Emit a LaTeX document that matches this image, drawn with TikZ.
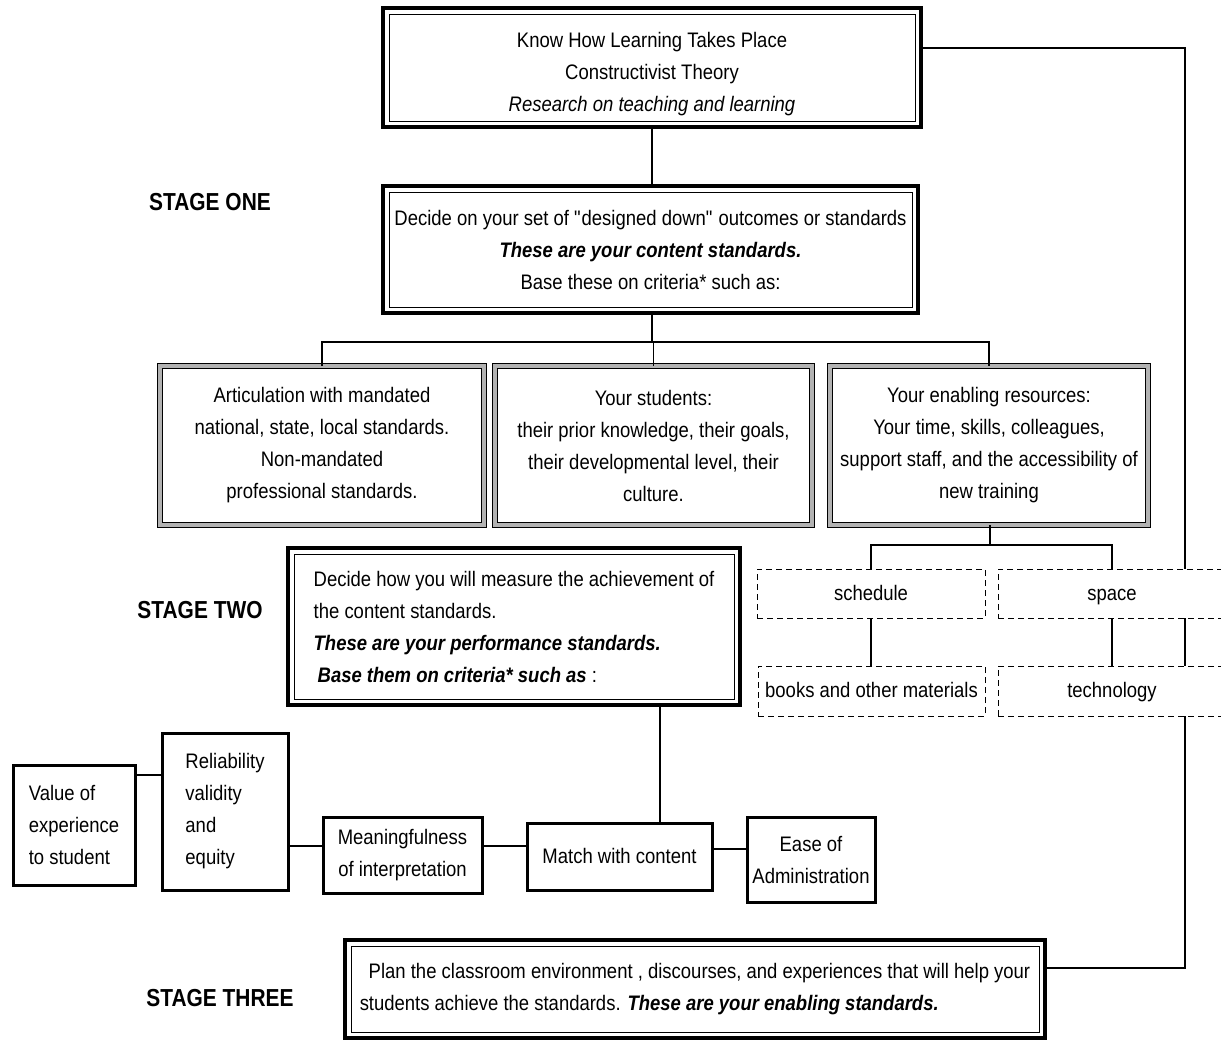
\documentclass[tikz,border=0pt]{standalone}
\usepackage{fontspec}
\setmainfont[FakeStretch=0.88]{Liberation Sans}
\newfontfamily\stagefont[FakeStretch=0.85]{Liberation Sans}
\usetikzlibrary{backgrounds}

\tikzset{
  txt/.style={font=\fontsize{10.5}{16}\selectfont, inner sep=0pt, outer sep=0pt},
  heavybox/.style={txt, draw, line width=1.6pt, fill=white, align=center,
    path picture={\draw[line width=0.5pt]
      ([shift={(3pt,-3pt)}]path picture bounding box.north west) rectangle
      ([shift={(-3pt,3pt)}]path picture bounding box.south east);}},
  grainbox/.style={txt, draw=black, line width=0.4pt, double=black!30,
    double distance=2pt, fill=white, align=center},
  dashbox/.style={txt, draw, densely dashed, line width=0.5pt, fill=white, align=center,
    text height=9pt, text depth=2.3pt},
  thickbox/.style={txt, draw, line width=1.5pt, fill=white, align=center},
  stagelabel/.style={font=\stagefont\bfseries\fontsize{12.3}{14}\selectfont},
  link/.style={line width=0.8pt},
}

\begin{document}
\begin{tikzpicture}[x=0.5pt, y=-0.5pt]
  \useasboundingbox (0,0) rectangle (1221,1040);

  % stage one
  \node[heavybox, minimum width=269pt, minimum height=59.5pt] (learn) at (652,67.5)
    {\rule{0pt}{14pt}Know How Learning Takes Place\\Constructivist Theory\\\textit{Research on teaching and learning}};
  \node[heavybox, minimum width=267.5pt, minimum height=63.5pt] (content) at (650.5,249.5)
    {Decide on your set of \textquotedbl designed down\textquotedbl{} outcomes or standards\\
     \textbf{\textit{These are your content standards.}}\\Base these on criteria* such as:};

  \node[grainbox, minimum width=162pt, minimum height=79.5pt] (artic) at (322,445.5)
    {Articulation with mandated\\national, state, local standards.\\Non-mandated\\professional standards.};
  \node[grainbox, minimum width=158.5pt, minimum height=79.5pt] (students) at (653.5,445.5)
    {Your students:\\their prior knowledge, their goals,\\their developmental level, their\\culture.};
  \node[grainbox, minimum width=159pt, minimum height=79.5pt] (resources) at (989,445.5)
    {Your enabling resources:\\Your time, skills, colleagues,\\support staff, and the accessibility of\\new training};

  % stage two
  \node[heavybox, align=left, minimum width=226pt, minimum height=78.5pt] (perf) at (514,626.5)
    {Decide how you will measure the achievement of\\the content standards.\\
     \textbf{\textit{These are your performance standards.}}\\
     \hspace{2pt}\textbf{\textit{Base them on criteria* such as}} :};

  \node[thickbox, align=left, minimum width=61pt, minimum height=60pt] (value) at (74,825)
    {Value of\\experience\\to student};
  \node[thickbox, align=left, minimum width=63pt, minimum height=78.5pt] (reliab) at (225,811.5)
    {Reliability\\validity\\and\\equity};
  \node[thickbox, minimum width=79.5pt, minimum height=38pt] (meaning) at (402.5,855)
    {Meaningfulness\\of interpretation};
  \node[thickbox, minimum width=92.5pt, minimum height=33.5pt, text height=9pt, text depth=2.3pt]
    (match) at (619.5,856.5) {Match with content};
  \node[thickbox, minimum width=64pt, minimum height=42.5pt] (ease) at (811,859.5)
    {Ease of\\Administration};

  % stage three
  \node[heavybox, align=left, minimum width=350pt, minimum height=49pt] (plan) at (695,989)
    {\hspace{4.5pt}Plan the classroom environment , discourses, and experiences that will help your\\
     students achieve the standards. \textbf{\textit{These are your enabling standards.}}};

  \node[stagelabel] (one) at (210,202) {STAGE ONE};
  \node[stagelabel] (two) at (200,610) {STAGE TWO};
  \node[stagelabel] (three) at (220,998) {STAGE THREE};

  % loop on the right, hidden behind the resource boxes
  \coordinate (loop) at (1185,968);
  \begin{scope}[on background layer]
    \draw[line width=1.1pt] (learn.east |- 0,48) -| (loop) -- (plan.east |- loop);
  \end{scope}

  \node[dashbox, minimum width=114pt, minimum height=24.5pt] (schedule) at (871,593.5) {schedule};
  \node[dashbox, minimum width=114pt, minimum height=24.5pt] (space) at (1112,593.5) {space};
  \node[dashbox, minimum width=113.5pt, minimum height=25pt] (books) at (871.5,691) {books and other materials};
  \node[dashbox, minimum width=114pt, minimum height=25pt] (tech) at (1112,691) {technology};

  % connectors
  \coordinate (bus1) at (652,342);
  \coordinate (bus2) at (990,545);
  \draw[line width=1.1pt] (learn.south) -- (learn.south |- content.north);
  \draw[link] (content.south -| bus1) -- (bus1);
  \draw[link] (artic.north) |- (bus1) -| (resources.north);
  \draw[link] (students.north) -- (students.north |- bus1);
  \draw[link] (resources.south -| bus2) -- (bus2);
  \draw[link] (schedule.north) |- (bus2) -| (space.north);
  \draw[line width=1pt] (schedule.south) -- (schedule.south |- books.north);
  \draw[link] (space.south) -- (space.south |- tech.north);

  \draw[line width=1pt] (660,0 |- perf.south) -- (660,0 |- match.north);
  \draw[link] (value.east |- 0,775) -- (reliab.west |- 0,775);
  \draw[link] (reliab.east |- 0,846) -- (meaning.west |- 0,846);
  \draw[link] (meaning.east |- 0,846) -- (match.west |- 0,846);
  \draw[link] (match.east |- 0,849) -- (ease.west |- 0,849);
\end{tikzpicture}
\end{document}
